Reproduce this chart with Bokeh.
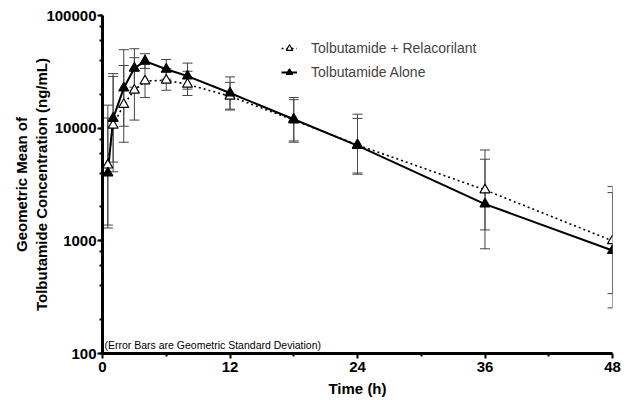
from bokeh.plotting import figure
from bokeh.models import (ColumnDataSource, Whisker, TeeHead, FixedTicker,
                          PrintfTickFormatter, Legend, LegendItem, Label, LogTicker)
from bokeh.embed import file_html
from bokeh.resources import INLINE

time_h = [0.5, 1, 2, 3, 4, 6, 8, 12, 18, 24, 36, 48]
alone_mean = [4000, 12200, 22700, 34000, 39400, 33300, 29000, 20500, 12000, 7000, 2120, 820]
alone_upper = [12300, 30500, 49700, 50700, 45800, 40700, 37800, 28500, 18700, 12200, 5300, 2680]
alone_lower = [1300, 5000, 10400, 23100, 33900, 27200, 22200, 14750, 7700, 4000, 850, 254]
rel_mean = [4700, 10600, 16200, 21700, 26200, 26600, 24500, 19200, 11800, 7100, 2830, 1000]
rel_upper = [16000, 28800, 36000, 42200, 36700, 34000, 32000, 25500, 17900, 13300, 6400, 3030]
rel_lower = [1380, 4100, 7500, 11800, 18700, 21700, 19500, 14500, 7500, 3900, 1250, 340]

x_ticks = [0, 12, 24, 36, 48]
x_minor = [6, 18, 30, 42]

FONT = "Liberation Sans"

p = figure(width=624, height=400, x_range=(0, 48), y_range=(100, 100000),
           y_axis_type="log", output_backend="svg", toolbar_location=None,
           min_border_left=102, min_border_right=12, min_border_top=15,
           min_border_bottom=47)
p.outline_line_color = None
p.xgrid.grid_line_color = None
p.ygrid.grid_line_color = None
p.background_fill_color = "white"

src_a = ColumnDataSource(dict(t=time_h, m=alone_mean, up=alone_upper, lo=alone_lower))
src_r = ColumnDataSource(dict(t=time_h, m=rel_mean, up=rel_upper, lo=rel_lower))

ebc = "#444444"
for src in (src_r, src_a):
    w = Whisker(source=src, base="t", upper="up", lower="lo",
                line_color=ebc, line_width=1,
                upper_head=TeeHead(size=10, line_color=ebc, line_width=1),
                lower_head=TeeHead(size=10, line_color=ebc, line_width=1))
    p.add_layout(w)

r_rel_line = p.line("t", "m", source=src_r, line_dash="2 3", line_width=1.6, line_color="black")
r_al_line = p.line("t", "m", source=src_a, line_width=2, line_color="black")
r_rel_mark = p.scatter("t", "m", source=src_r, marker="triangle", size=10,
                       fill_color="white", line_color="black", line_width=1.2)
r_al_mark = p.scatter("t", "m", source=src_a, marker="triangle", size=10,
                      fill_color="black", line_color="black", line_width=1.2)

legend = Legend(items=[
    LegendItem(label="Tolbutamide + Relacorilant", renderers=[r_rel_line, r_rel_mark]),
    LegendItem(label="Tolbutamide Alone", renderers=[r_al_line, r_al_mark]),
], location=(179, 271), border_line_color=None, background_fill_alpha=0,
    glyph_width=16, glyph_height=20, label_height=20, label_standoff=14,
    label_text_font_size="14px", label_text_font=FONT, spacing=4, padding=0, margin=0)
p.add_layout(legend)

# axes
for ax in (p.xaxis[0], p.yaxis[0]):
    ax.axis_line_width = 3
    ax.axis_line_color = "black"
    ax.major_tick_line_width = 2
    ax.major_tick_out = 5
    ax.major_tick_in = 0
    ax.minor_tick_line_width = 2
    ax.minor_tick_out = 3
    ax.minor_tick_in = 0
    ax.major_label_text_font = FONT
    ax.major_label_text_font_style = "bold"
    ax.major_label_text_font_size = "15px"
    ax.major_label_text_color = "black"
    ax.axis_label_text_font = FONT
    ax.axis_label_text_font_style = "bold"
    ax.axis_label_text_font_size = "15px"
    ax.axis_label_text_color = "black"

p.xaxis.ticker = FixedTicker(ticks=x_ticks, minor_ticks=x_minor)
p.xaxis.axis_label = "Time (h)"
p.xaxis.major_label_standoff = 3
p.xaxis.axis_label_standoff = 5

p.yaxis.ticker = LogTicker()
p.yaxis.formatter = PrintfTickFormatter(format="%d")
p.yaxis.major_label_standoff = 1
p.yaxis.axis_label = "Geometric Mean of\nTolbutamide Concentration (ng/mL)"
p.yaxis.axis_label_standoff = -7

note = Label(x=2, y=3, x_units="screen", y_units="screen",
             text="(Error Bars are Geometric Standard Deviation)",
             text_font=FONT, text_font_size="10.5px", text_color="black",
             text_baseline="bottom")
p.add_layout(note)

open("out.html", "w").write(file_html(p, INLINE))
